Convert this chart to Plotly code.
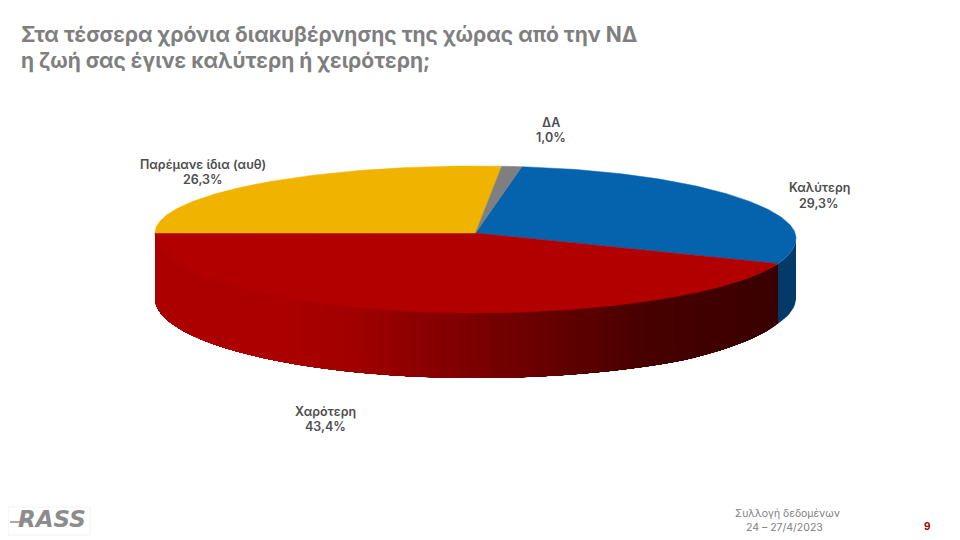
import numpy as np
import plotly.graph_objects as go

categories = ["Καλύτερη", "Χαρότερη", "Παρέμανε ίδια (αυθ)", "ΔΑ"]
values = [29.3, 43.4, 26.3, 1.0]
colors = ["#0563ad", "#b20000", "#f0b400", "#7f7f7f"]
title_lines = ["Στα τέσσερα χρόνια διακυβέρνησης της χώρας από την ΝΔ",
               "η ζωή σας έγινε καλύτερη ή χειρότερη;"]
footer_lines = ["Συλλογή δεδομένων", "24 – 27/4/2023"]
page_number = "9"
label_x = [819, 325, 203, 551]
name_y = [187.5, 411, 164, 122]
pct_y = [203, 426, 179, 137]

CX, CY, RX, RY_UP, RY_DOWN = 475.5, 233, 320.5, 67, 80
START = 8.3  # degrees clockwise from the top where the first slice begins
BODY = 8     # default page margin of the browser


def warp(theta):
    # perspective: the front right of the disc is stretched towards the viewer
    theta = np.asarray(theta, dtype=float)
    w = np.where((theta > 90) & (theta < 180),
                 4.5 * np.sin(np.radians(2 * (theta - 90))) / 0.74, 0)
    return theta - w


def pt(theta):
    t = np.radians(warp(theta))
    c, s = np.cos(t), np.sin(t)
    ry = np.where(c >= 0, RY_UP, RY_DOWN)
    return CX + RX * s, CY - ry * c + 5 * np.maximum(s, 0) ** 3


def depth(theta):
    return np.interp(warp(theta), [90, 109, 140, 270], [60, 60, 65, 65])


def shade(x, base):
    xs = [155, 280, 350, 420, 470, 560, 650, 720, 790]
    fs = [1.0, 1.0, 0.95, 0.82, 0.74, 0.58, 0.42, 0.37, 0.33]
    f = np.interp(x, xs, fs)
    return "rgb(%d,%d,%d)" % tuple(int(b * f) for b in base)


angles = np.cumsum([0] + [v * 3.6 for v in values]) + START
fig = go.Figure()


def poly(x, y, color, width=0):
    fig.add_trace(go.Scatter(x=x, y=y, mode="lines", fill="toself", fillcolor=color,
                             line=dict(color=color, width=width), hoverinfo="skip",
                             showlegend=False))


# side wall of the red slice: each strip runs to the far end so neighbours overlap
step = 1.5
a0, a1 = angles[1], min(angles[2], 270)
for s in np.arange(a0, a1, step):
    th = np.linspace(s, a1, max(int((a1 - s) / 2), 2))
    x, y = pt(th)
    d = depth(th)
    poly(np.r_[x, x[::-1]], np.r_[y, (y + d)[::-1]],
         shade(float(pt(np.array([s]))[0][0]), (172, 0, 0)))

# side wall of the blue slice
th = np.linspace(90, angles[1], 12)
x, y = pt(th)
poly(np.r_[x, x[::-1]], np.r_[y, (y + depth(th))[::-1]], "#033a69")

# top faces of the slices
for i, color in enumerate(colors):
    th = np.linspace(angles[i], angles[i + 1], max(int(values[i] * 4), 6))
    x, y = pt(th)
    poly(np.r_[CX, x, CX], np.r_[CY, y, CY], color, width=0.5)

TXT = "#4d4d4d"
F = "Inter"


def pct(v):
    return f"{v:.1f}%".replace(".", ",")


annos = []
for name, v, ax, ny, py in zip(categories, values, label_x, name_y, pct_y):
    for txt, yy in ((name, ny), (pct(v), py)):
        annos.append(dict(x=ax, y=yy, xref="x", yref="y", text=txt, showarrow=False,
                          font=dict(family=F, size=12.5, color=TXT, weight=600)))

for line, yy in zip(title_lines, [34, 60]):
    annos.append(dict(x=19, y=yy, xref="x", yref="y", xanchor="left", text=line, showarrow=False,
                      font=dict(family=F, size=21, color="#7f7f7f", weight=700)))

for line, xx, yy in zip(footer_lines, [787, 784], [513, 527]):
    annos.append(dict(x=xx, y=yy, xref="x", yref="y", text=line, showarrow=False,
                      font=dict(family=F, size=10.5, color="#808080")))
annos.append(dict(x=927, y=526, xref="x", yref="y", text=page_number, showarrow=False,
                  font=dict(family=F, size=10, color="#a00000", weight=700)))
annos.append(dict(x=52, y=519, xref="x", yref="y", text="<i>RASS</i>", showarrow=False,
                  font=dict(family="DejaVu Sans", size=23, color="#8c8c8c", weight=700)))

fig.update_layout(
    width=960 - BODY, height=540 - BODY, margin=dict(l=0, r=0, t=0, b=0),
    paper_bgcolor="white", plot_bgcolor="white", showlegend=False,
    xaxis=dict(range=[BODY, 960], visible=False, fixedrange=True),
    yaxis=dict(range=[540, BODY], visible=False, fixedrange=True),
    annotations=annos,
    shapes=[dict(type="rect", x0=8, y0=507, x1=90, y1=535, xref="x", yref="y",
                 line=dict(color="#f2f2f2", width=1), layer="below"),
            dict(type="line", x0=10, y0=522, x1=28, y1=522, xref="x", yref="y",
                 line=dict(color="#8c8c8c", width=1.5))],
)
fig.write_html("out.html")
